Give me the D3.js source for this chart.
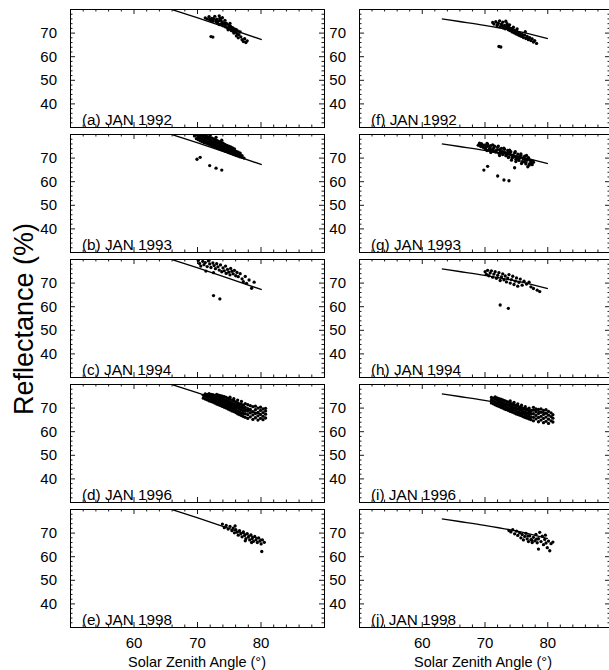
<!DOCTYPE html>
<html><head><meta charset="utf-8">
<script src="https://cdn.jsdelivr.net/npm/d3@7"></script>
<style>body{margin:0;background:#fff}svg{display:block}</style>
</head><body>
<svg id="c" width="609" height="670"></svg>
<script>
const xTicks = [60, 70, 80];
const yTicks = [40, 50, 60, 70];
const xMinor = [52,54,56,58,62,64,66,68,72,74,76,78,82,84,86,88];
const yMinor = [32,34,36,38,42,44,46,48,52,54,56,58,62,64,66,68,72,74,76,78];
const xDomain = [50, 90];
const yDomain = [30, 80];
const panelLabels = ["(a) JAN 1992","(b) JAN 1993","(c) JAN 1994","(d) JAN 1996","(e) JAN 1998",
                     "(f) JAN 1992","(g) JAN 1993","(h) JAN 1994","(i) JAN 1996","(j) JAN 1998"];
const xTitle = "Solar Zenith Angle (°)";
const yTitle = "Reflectance (%)";

const curveLeft  = [[63,82.4],[66,79.8],[70,76.3],[75,71.8],[80.2,67.0]];
const curveRight = [[63.2,75.8],[66,74.7],[70,73.1],[75,70.7],[80.1,67.4]];

const pointsA = [[71.3,76.2],[71.6,75.8],[71.9,76.8],[72.1,75.2],[72.3,76.0],[72.5,74.8],[72.6,75.9],[72.8,76.9],[73.0,74.6],[73.1,75.7],[73.3,73.9],[73.4,75.0],[73.6,76.1],[73.8,73.5],[73.9,74.6],[74.1,72.9],[74.2,74.1],[74.4,75.2],[74.5,72.4],[74.7,73.6],[74.8,72.0],[75.0,73.2],[75.1,71.5],[75.3,72.6],[75.4,70.9],[75.6,72.1],[75.7,70.5],[75.9,71.6],[76.0,70.2],[76.2,71.2],[76.3,69.6],[76.5,70.6],[76.6,69.1],[76.8,70.3],[76.2,68.6],[76.9,68.2],[77.1,67.0],[77.3,66.2],[77.5,67.4],[77.7,65.8],[77.9,66.5],[76.5,67.8],[72.2,68.3],[72.5,68.1],[73.5,77.1],[74.0,76.3],[73.2,74.3],[74.6,74.0],[75.2,73.9],[73.7,75.4],[74.9,71.2],[75.5,71.3],[72.0,75.6],[73.0,75.2],[74.0,74.0],[75.0,72.2],[76.0,71.0],[74.4,73.3],[75.8,69.8],[73.5,73.4]];
const pointsB = [[69.6,79.2],[69.9,78.0],[69.9,79.5],[70.2,77.6],[70.2,78.7],[70.2,79.6],[70.5,77.1],[70.5,78.2],[70.5,79.3],[70.8,76.8],[70.8,77.9],[70.8,79.0],[70.8,79.8],[71.1,76.4],[71.1,77.5],[71.1,78.6],[71.1,79.5],[71.4,76.1],[71.4,77.1],[71.4,78.2],[71.4,79.2],[71.7,75.8],[71.7,76.8],[71.7,77.9],[71.7,78.9],[72.0,75.4],[72.0,76.4],[72.0,77.5],[72.0,78.6],[72.3,75.1],[72.3,76.1],[72.3,77.1],[72.3,78.3],[72.6,74.8],[72.6,75.8],[72.6,76.8],[72.6,77.9],[72.9,74.5],[72.9,75.5],[72.9,76.5],[72.9,77.6],[73.2,74.1],[73.2,75.1],[73.2,76.1],[73.2,77.2],[73.5,73.8],[73.5,74.8],[73.5,75.8],[73.5,76.8],[73.8,73.4],[73.8,74.4],[73.8,75.4],[73.8,76.5],[74.1,73.1],[74.1,74.0],[74.1,75.0],[74.1,76.1],[74.4,72.8],[74.4,73.7],[74.4,74.6],[74.4,75.6],[74.7,72.5],[74.7,73.4],[74.7,74.3],[74.7,75.2],[75.0,72.1],[75.0,73.0],[75.0,73.9],[75.0,74.8],[75.3,71.8],[75.3,72.7],[75.3,73.6],[75.3,74.5],[75.6,71.5],[75.6,72.4],[75.6,73.3],[75.6,74.1],[75.9,71.2],[75.9,72.1],[75.9,72.9],[75.9,73.7],[76.2,70.9],[76.2,71.8],[76.2,72.6],[76.5,70.6],[76.5,71.5],[76.5,72.3],[76.8,70.3],[76.8,71.1],[76.8,71.9],[77.1,70.1],[77.1,70.8],[77.4,69.8],[70.0,69.3],[70.5,70.1],[72.0,66.6],[73.0,65.5],[73.9,64.7],[71.2,80.3],[72.1,79.6],[73.0,78.6],[73.9,77.4],[70.6,80.1]];
const pointsC = [[70.2,79.4],[70.4,78.1],[70.6,77.0],[70.9,79.0],[71.1,77.6],[71.3,78.5],[71.6,76.8],[71.8,79.2],[72.0,77.9],[72.2,76.4],[72.5,78.3],[72.7,77.2],[72.9,75.9],[73.1,78.0],[73.3,76.7],[73.5,75.3],[73.7,77.5],[73.9,74.6],[74.1,76.2],[74.3,75.0],[74.5,77.0],[74.6,73.9],[74.8,75.6],[75.0,74.4],[75.2,73.3],[75.3,76.0],[75.5,74.8],[75.7,73.7],[75.9,75.2],[76.1,72.9],[76.3,74.3],[76.5,72.5],[76.8,73.8],[77.1,71.6],[77.3,70.4],[77.6,72.6],[77.8,69.7],[78.2,71.1],[78.6,67.6],[79.0,70.2],[71.4,74.9],[72.6,74.2],[72.6,64.5],[73.6,63.1]];
const pointsD = [[71.0,74.0],[71.0,75.2],[71.3,73.6],[71.3,74.7],[71.3,75.8],[71.6,73.3],[71.6,74.4],[71.6,75.5],[71.9,72.9],[71.9,74.0],[71.9,75.1],[71.9,75.9],[72.2,72.6],[72.2,73.7],[72.2,74.8],[72.2,75.6],[72.5,72.3],[72.5,73.4],[72.5,74.5],[72.5,75.5],[72.8,71.9],[72.8,73.0],[72.8,74.1],[72.8,75.2],[73.1,71.5],[73.1,72.6],[73.1,73.7],[73.1,74.8],[73.1,75.6],[73.4,71.2],[73.4,72.3],[73.4,73.4],[73.4,74.5],[73.4,75.3],[73.7,70.9],[73.7,72.0],[73.7,73.1],[73.7,74.2],[73.7,75.1],[74.0,70.5],[74.0,71.6],[74.0,72.7],[74.0,73.8],[74.0,74.9],[74.3,70.1],[74.3,71.2],[74.3,72.3],[74.3,73.4],[74.3,74.6],[74.6,69.8],[74.6,70.9],[74.6,72.0],[74.6,73.1],[74.6,74.3],[74.9,69.4],[74.9,70.5],[74.9,71.6],[74.9,72.7],[74.9,73.9],[75.2,69.0],[75.2,70.1],[75.2,71.2],[75.2,72.3],[75.2,73.5],[75.2,74.4],[75.5,68.6],[75.5,69.7],[75.5,70.9],[75.5,72.0],[75.5,73.2],[75.8,68.3],[75.8,69.4],[75.8,70.5],[75.8,71.6],[75.8,72.8],[75.8,73.8],[76.1,67.9],[76.1,69.0],[76.1,70.1],[76.1,71.2],[76.1,72.4],[76.4,67.4],[76.4,68.6],[76.4,69.8],[76.4,70.9],[76.4,72.0],[76.4,73.2],[76.7,67.0],[76.7,68.2],[76.7,69.4],[76.7,70.5],[76.7,71.6],[77.0,66.6],[77.0,67.8],[77.0,69.0],[77.0,70.2],[77.0,71.4],[77.0,72.6],[77.3,66.2],[77.3,67.5],[77.3,68.7],[77.3,69.9],[77.3,71.0],[77.6,65.9],[77.6,67.4],[77.6,68.8],[77.6,70.1],[77.6,71.7],[78.0,65.4],[78.0,67.0],[78.0,68.5],[78.0,69.6],[78.0,71.2],[78.4,66.1],[78.4,67.8],[78.4,69.2],[78.4,70.8],[78.8,65.0],[78.8,66.9],[78.8,68.3],[78.8,70.4],[79.2,65.7],[79.2,67.5],[79.2,69.1],[79.2,70.6],[79.6,64.7],[79.6,66.5],[79.6,68.0],[79.6,69.8],[80.0,65.4],[80.0,67.1],[80.0,68.8],[80.0,70.2],[80.4,64.9],[80.4,66.3],[80.4,67.9],[80.4,69.4],[80.8,65.6],[80.8,67.2],[80.8,68.6],[80.8,69.7]];
const pointsE = [[74.0,73.6],[74.3,72.1],[74.6,73.0],[74.9,71.5],[75.2,72.6],[75.5,70.8],[75.7,71.9],[75.9,69.9],[76.1,71.3],[76.3,70.2],[76.5,68.9],[76.7,70.8],[76.9,69.5],[77.1,68.2],[77.3,70.3],[77.5,68.8],[77.7,67.4],[77.9,69.6],[78.1,68.1],[78.3,66.9],[78.5,69.0],[78.7,67.5],[78.9,66.3],[79.1,68.4],[79.3,67.0],[79.5,65.8],[79.7,67.8],[79.9,66.4],[80.1,65.2],[80.3,66.9],[80.6,65.9],[80.2,62.0],[76.0,72.8],[77.6,66.5],[78.6,65.8]];
const pointsF = [[71.3,74.3],[71.5,73.6],[71.8,74.6],[72.0,73.0],[72.2,74.0],[72.4,75.0],[72.5,72.5],[72.7,73.6],[72.9,74.4],[73.0,72.0],[73.2,73.1],[73.3,71.6],[73.5,72.6],[73.6,73.8],[73.8,71.2],[73.9,72.2],[74.1,70.8],[74.2,71.8],[74.4,70.3],[74.5,71.4],[74.7,69.9],[74.8,70.9],[75.0,69.5],[75.1,70.6],[75.3,69.1],[75.4,70.1],[75.6,68.7],[75.7,69.7],[75.9,68.4],[76.0,69.3],[76.2,67.9],[76.4,68.9],[76.6,67.5],[76.8,68.4],[77.0,67.0],[77.2,67.9],[77.4,66.6],[77.6,67.3],[77.8,66.0],[78.0,66.6],[78.3,65.4],[76.5,70.4],[72.3,64.1],[72.6,63.9],[73.4,74.8],[74.0,73.3],[72.8,72.9],[73.7,72.9],[74.6,72.3],[75.2,71.6],[72.1,73.5],[73.1,72.6],[74.0,71.6],[75.0,70.3],[76.0,68.8],[77.0,67.6],[73.6,72.2],[74.9,70.0]];
const pointsG = [[69.0,75.2],[69.2,76.1],[69.4,74.7],[69.6,75.6],[69.8,74.3],[70.0,75.3],[70.1,73.7],[70.3,74.6],[70.5,75.7],[70.7,73.2],[70.9,74.2],[71.0,75.1],[71.2,72.8],[71.4,73.8],[71.6,74.8],[71.8,72.3],[72.0,73.3],[72.1,74.4],[72.3,71.8],[72.5,72.8],[72.7,73.9],[72.9,71.3],[73.0,72.4],[73.2,73.5],[73.4,70.8],[73.6,71.9],[73.7,73.0],[73.9,70.3],[74.1,71.4],[74.2,72.5],[74.4,69.8],[74.6,70.9],[74.8,72.0],[75.0,69.3],[75.1,70.4],[75.3,71.5],[75.5,68.8],[75.7,69.9],[75.8,71.0],[76.0,68.3],[76.2,69.4],[76.4,70.6],[76.6,67.9],[76.8,68.9],[77.0,70.0],[77.2,67.4],[77.4,68.4],[77.6,67.0],[77.8,68.0],[69.5,75.9],[70.4,76.0],[71.3,75.4],[72.2,74.9],[73.1,74.0],[74.0,73.2],[74.9,72.5],[75.8,71.6],[76.7,70.9],[71.5,72.6],[72.6,72.0],[73.5,71.2],[74.5,70.2],[75.4,69.2],[76.3,68.2],[70.4,73.0],[69.9,64.7],[70.5,66.3],[72.1,62.2],[73.1,60.5],[73.9,60.2],[74.8,65.7],[76.9,66.1],[77.5,67.8],[75.9,67.5],[74.3,68.9],[69.3,75.4],[69.7,74.9],[70.2,74.3],[70.6,74.9],[70.8,73.8],[71.1,73.3],[71.5,74.2],[71.9,73.0],[72.4,73.4],[72.8,72.5],[73.3,72.1],[73.7,71.5],[74.0,72.0],[74.4,71.0],[74.7,70.5],[75.2,70.0],[75.6,70.5],[76.1,69.8],[76.5,69.2],[76.9,69.6],[77.3,68.9],[77.7,68.5],[73.8,70.0],[72.4,70.9],[71.0,72.2],[75.0,68.3],[76.6,67.3],[77.1,66.8]];
const pointsH = [[70.1,74.6],[70.3,73.5],[70.5,75.2],[70.7,72.9],[70.9,74.1],[71.1,75.0],[71.3,72.3],[71.5,73.6],[71.7,74.6],[71.9,71.8],[72.1,73.1],[72.3,74.2],[72.5,70.9],[72.7,72.4],[72.9,73.7],[73.1,71.2],[73.3,72.8],[73.5,70.3],[73.7,71.9],[73.9,73.4],[74.1,69.8],[74.3,71.3],[74.5,72.7],[74.7,69.2],[74.9,70.6],[75.1,72.0],[75.3,68.5],[75.5,70.1],[75.7,71.5],[76.0,68.9],[76.3,70.6],[76.7,69.4],[77.1,70.2],[77.4,68.2],[77.8,67.5],[78.4,66.8],[78.8,66.2],[72.5,60.5],[73.8,59.1]];
const pointsI = [[71.1,72.0],[71.1,73.2],[71.1,74.3],[71.4,71.6],[71.4,72.8],[71.4,74.0],[71.7,71.2],[71.7,72.4],[71.7,73.6],[71.7,74.5],[72.0,70.8],[72.0,72.0],[72.0,73.2],[72.0,74.1],[72.3,70.5],[72.3,71.6],[72.3,72.8],[72.3,73.8],[72.6,70.1],[72.6,71.3],[72.6,72.5],[72.6,73.6],[72.9,69.8],[72.9,70.9],[72.9,72.1],[72.9,73.3],[73.2,69.4],[73.2,70.6],[73.2,71.7],[73.2,72.9],[73.5,69.1],[73.5,70.2],[73.5,71.4],[73.5,72.6],[73.8,68.8],[73.8,69.9],[73.8,71.1],[73.8,72.3],[74.1,68.4],[74.1,69.6],[74.1,70.7],[74.1,71.9],[74.1,72.8],[74.4,68.1],[74.4,69.2],[74.4,70.4],[74.4,71.6],[74.7,67.8],[74.7,68.9],[74.7,70.0],[74.7,71.2],[74.7,72.2],[75.0,67.4],[75.0,68.6],[75.0,69.7],[75.0,70.9],[75.3,67.1],[75.3,68.2],[75.3,69.4],[75.3,70.6],[75.3,71.6],[75.6,66.8],[75.6,67.9],[75.6,69.1],[75.6,70.2],[75.9,66.5],[75.9,67.6],[75.9,68.8],[75.9,69.9],[75.9,71.0],[76.2,66.1],[76.2,67.3],[76.2,68.4],[76.2,69.6],[76.5,65.8],[76.5,67.0],[76.5,68.1],[76.5,69.3],[76.5,70.4],[76.8,65.5],[76.8,66.6],[76.8,67.8],[76.8,69.0],[77.1,65.2],[77.1,66.3],[77.1,67.5],[77.1,68.7],[77.1,69.8],[77.4,64.9],[77.4,66.0],[77.4,67.2],[77.4,68.4],[77.8,64.4],[77.8,65.9],[77.8,67.4],[77.8,68.9],[77.8,70.1],[78.2,65.2],[78.2,66.7],[78.2,68.2],[78.2,69.5],[78.6,64.0],[78.6,65.8],[78.6,67.5],[78.6,69.2],[79.0,64.7],[79.0,66.3],[79.0,68.0],[79.0,69.4],[79.4,63.6],[79.4,65.4],[79.4,67.1],[79.4,68.8],[79.8,64.2],[79.8,66.0],[79.8,67.6],[79.8,69.1],[80.2,63.3],[80.2,65.1],[80.2,66.8],[80.2,68.4],[80.6,64.4],[80.6,66.2],[80.6,67.8],[80.9,63.9],[80.9,65.5],[80.9,67.0]];
const pointsJ = [[73.9,70.9],[74.2,70.3],[74.5,71.2],[74.8,69.5],[75.1,70.6],[75.3,68.8],[75.6,69.9],[75.8,67.8],[76.0,69.2],[76.2,66.9],[76.4,68.4],[76.6,69.7],[76.8,67.3],[77.0,66.2],[77.2,68.6],[77.4,67.0],[77.6,65.8],[77.8,68.0],[78.0,66.5],[78.2,69.2],[78.4,65.7],[78.6,67.4],[78.8,70.1],[79.0,66.2],[79.2,68.5],[79.4,64.9],[79.6,67.1],[79.8,65.6],[80.0,63.6],[80.2,66.4],[80.4,62.3],[80.6,65.3],[80.9,66.0],[78.6,63.0],[79.7,68.9],[76.9,68.6],[77.5,66.9],[78.3,67.2]];

const panelPoints = [pointsA, pointsB, pointsC, pointsD, pointsE, pointsF, pointsG, pointsH, pointsI, pointsJ];
const panelCurves = [curveLeft, curveLeft, curveLeft, curveLeft, curveLeft, curveRight, curveRight, curveRight, curveRight, curveRight];

// layout
const colRanges = [[70, 324], [359, 610]];
const rowTops = [9, 134, 259, 384, 509];
const panelH = 118;
const FONT = "'Liberation Sans', Arial, Helvetica, sans-serif";

const svg = d3.select("#c");
svg.append("rect").attr("width", 609).attr("height", 670).attr("fill", "#fff");

panelLabels.forEach((lab, i) => {
  const col = Math.floor(i / 5), row = i % 5;
  const top = rowTops[row], bottom = top + panelH;
  const x = d3.scaleLinear().domain(xDomain).range(colRanges[col]);
  const y = d3.scaleLinear().domain(yDomain).range([bottom, top]);
  const g = svg.append("g");
  const cid = "clip" + i;
  svg.append("clipPath").attr("id", cid).append("rect")
    .attr("x", x(xDomain[0])).attr("y", top)
    .attr("width", x(xDomain[1]) - x(xDomain[0])).attr("height", panelH);

  const plot = g.append("g").attr("clip-path", `url(#${cid})`);
  const line = d3.line().x(d => x(d[0])).y(d => y(d[1])).curve(d3.curveMonotoneX);
  plot.append("path").datum(panelCurves[i]).attr("d", line)
    .attr("fill", "none").attr("stroke", "#000").attr("stroke-width", 1.3);
  plot.selectAll("circle").data(panelPoints[i]).enter().append("circle")
    .attr("cx", d => x(d[0])).attr("cy", d => y(d[1])).attr("r", 1.65).attr("fill", "#000");

  // axes with inward ticks
  const axL = d3.axisLeft(y).tickValues(yTicks).tickSize(-5).tickFormat(d3.format("d")).tickPadding(13);
  const axR = d3.axisRight(y).tickValues(yTicks).tickSize(-5).tickFormat("");
  const axB = d3.axisBottom(x).tickValues(xTicks).tickSize(-5).tickFormat(row === 4 ? d3.format("d") : "").tickPadding(10);
  const axT = d3.axisTop(x).tickValues(xTicks).tickSize(-5).tickFormat("");
  const mL = d3.axisLeft(y).tickValues(yMinor).tickSize(-2.5).tickFormat("");
  const mR = d3.axisRight(y).tickValues(yMinor).tickSize(-2.5).tickFormat("");
  const mB = d3.axisBottom(x).tickValues(xMinor).tickSize(-2.5).tickFormat("");
  const mT = d3.axisTop(x).tickValues(xMinor).tickSize(-2.5).tickFormat("");
  const x0 = colRanges[col][0], x1 = colRanges[col][1];
  [[axL, `translate(${x0},0)`], [mL, `translate(${x0},0)`],
   [axR, `translate(${x1},0)`], [mR, `translate(${x1},0)`],
   [axB, `translate(0,${bottom})`], [mB, `translate(0,${bottom})`],
   [axT, `translate(0,${top})`], [mT, `translate(0,${top})`]].forEach(([ax, tr]) => {
    const a = g.append("g").attr("transform", tr).call(ax);
    a.select(".domain").attr("stroke", "#000").attr("stroke-width", 1);
    a.selectAll(".tick line").attr("stroke", "#000").attr("stroke-width", 0.9);
    a.selectAll("text").attr("fill", "#000").style("font-family", FONT).style("font-size", "15px");
  });

  g.append("text").attr("x", x0 + 12).attr("y", bottom - 2)
    .style("font-family", FONT).style("font-size", "15.3px").attr("fill", "#000").text(lab);

  if (row === 4) {
    svg.append("text").attr("x", (x0 + Math.min(x1, 609)) / 2 + (col === 1 ? -1 : 0)).attr("y", 667)
      .attr("text-anchor", "middle").style("font-family", FONT).style("font-size", "14.5px")
      .attr("fill", "#000").text(xTitle);
  }
});

svg.append("text").attr("transform", "translate(33,319) rotate(-90)")
  .attr("text-anchor", "middle").style("font-family", FONT).style("font-size", "27px")
  .attr("fill", "#000").text(yTitle);
</script>
</body></html>
